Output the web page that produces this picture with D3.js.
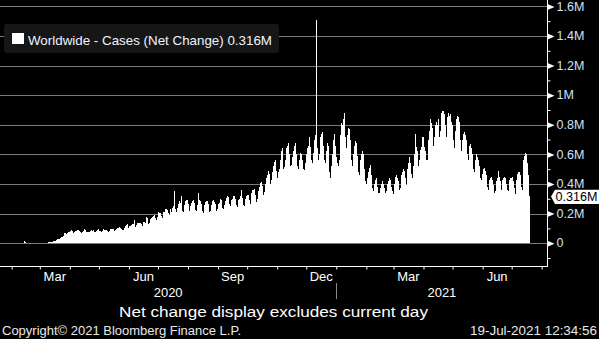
<!DOCTYPE html>
<html>
<head>
<meta charset="utf-8">
<script src="https://cdn.jsdelivr.net/npm/d3@7"></script>
<style>
  html, body { margin: 0; padding: 0; background: #000; }
  svg { display: block; }
</style>
</head>
<body>
<svg id="chart" width="599" height="339"></svg>
<script>
// Daily worldwide net change in confirmed cases, in thousands.
const firstDay = "2020-01-22";

const cases2020 = [
  // Jan 22-31
  0, 0.1, 0.3, 0.5, 0.7, 0.8, 2.7, 0.6, 2.1, 1.7,
  // Feb
  2.1, 2.6, 3.3, 3.9, 3.7, 3.2, 3.4, 2.7, 3.1, 2.6, 2.5, 2.1, 2.0, 15.1, 6.5, 2.1, 2.2, 2.1, 1.9, 0.6,
  0.9, 1.1, 1.5, 0.6, 0.9, 0.9, 1.4, 2.0, 1.9,
  // Mar
  1.8, 2.0, 2.5, 2.3, 2.9, 3.8, 3.9, 4.1, 4.4, 4.8, 7.8, 10.9, 9.7, 10.5, 13.6, 15.1, 17.3, 20.9, 28.3, 30.2,
  31.0, 34.5, 39.1, 40.5, 52, 65, 66, 67, 62, 66, 76,
  // Apr
  77, 80, 87, 82, 72, 74, 81, 85, 87, 86, 83, 79, 70, 76, 84, 93, 89, 79, 76, 74,
  75, 83, 92, 85, 89, 75, 72, 76, 80, 86,
  // May
  93, 85, 80, 77, 83, 93, 92, 89, 87, 80, 74, 83, 94, 96, 99, 96, 85, 91, 95, 103,
  105, 109, 101, 93, 90, 92, 102, 118, 124, 129, 115,
  // Jun
  105, 113, 118, 125, 128, 130, 155, 110, 122, 136, 138, 137, 136, 128, 118, 143, 144, 139, 176, 168,
  133, 138, 165, 170, 180, 184, 189, 170, 160, 174,
  // Jul
  208, 212, 206, 204, 185, 170, 212, 214, 228, 234, 224, 206, 190, 230, 214, 236, 250, 350, 230, 212,
  236, 268, 282, 270, 320, 218, 212, 256, 286, 290, 290,
  // Aug
  264, 220, 210, 254, 274, 282, 290, 270, 226, 218, 258, 340, 290, 282, 262, 216, 206, 256, 276, 282,
  282, 264, 210, 220, 260, 286, 292, 278, 266, 216, 230,
  // Sep
  264, 272, 286, 300, 290, 238, 228, 258, 286, 306, 320, 310, 262, 254, 290, 300, 316, 318, 300, 258,
  246, 290, 300, 318, 360, 306, 260, 254, 302, 316,
  // Oct
  324, 328, 294, 264, 292, 338, 360, 358, 364, 324, 280, 296, 350, 380, 404, 412, 384, 324, 346, 400,
  440, 460, 490, 466, 400, 430, 484, 520, 550, 564, 490,
  // Nov
  440, 480, 500, 560, 620, 640, 618, 500, 512, 560, 640, 660, 680, 600, 520, 530, 580, 620, 660, 680,
  604, 520, 500, 560, 610, 600, 560, 500, 496, 540,
  // Dec
  600, 640, 660, 720, 650, 560, 540, 610, 680, 700, 730, 1510, 640, 560, 600, 720, 740, 750, 660, 560,
  540, 620, 680, 660, 480, 440, 520, 600, 700, 740, 660
];

const cases2021 = [
  // Jan
  580, 540, 520, 560, 730, 810, 800, 840, 880, 720, 600, 640, 730, 780, 770, 700, 560, 520, 600, 660,
  690, 680, 590, 480, 460, 560, 600, 620, 600, 500, 420,
  // Feb
  400, 440, 480, 510, 530, 460, 370, 350, 400, 430, 440, 430, 380, 340, 340, 370, 400, 420, 400, 370,
  340, 350, 400, 420, 440, 430, 380, 350,
  // Mar
  330, 400, 450, 460, 440, 420, 360, 370, 460, 480, 500, 490, 440, 390, 400, 500, 540, 580, 540, 470,
  440, 520, 600, 735, 650, 620, 520, 560, 630, 650, 720,
  // Apr
  720, 650, 620, 560, 560, 700, 760, 836, 810, 780, 660, 720, 800, 820, 800, 780, 840, 720, 760, 880,
  890, 890, 870, 800, 720, 850, 880, 860, 870, 820,
  // May
  800, 700, 640, 760, 840, 860, 850, 820, 700, 620, 700, 740, 750, 730, 700, 600, 560, 640, 660, 670,
  640, 600, 500, 480, 560, 600, 580, 560, 520, 440, 430,
  // Jun
  470, 500, 510, 490, 460, 380, 360, 430, 440, 450, 430, 390, 340, 350, 420, 440, 485, 450, 420, 360,
  340, 430, 440, 450, 440, 400, 360, 350, 430, 440,
  // Jul 1-19
  440, 450, 420, 370, 330, 430, 470, 480, 480, 460, 380, 360, 560, 590, 612, 600, 540, 460, 316
];

const yTickValues = [0, 200, 400, 600, 800, 1000, 1200, 1400, 1600];
const yTickLabels = ["0", "0.2M", "0.4M", "0.6M", "0.8M", "1M", "1.2M", "1.4M", "1.6M"];
const yMinorValues = [-100, 100, 300, 500, 700, 900, 1100, 1300, 1500];
const monthLabelDates = ["2020-03-01", "2020-06-01", "2020-09-01", "2020-12-01", "2021-03-01", "2021-06-01"];
const monthLabelTexts = ["Mar", "Jun", "Sep", "Dec", "Mar", "Jun"];
const yearLabels = ["2020", "2021"];
const seriesName = "Worldwide - Cases (Net Change)";
const lastValueText = "0.316M";
const footnote = "Net change display excludes current day";
const copyright = "Copyright\u00A9 2021 Bloomberg Finance L.P.";
const stamp = "19-Jul-2021 12:34:56";

const parse = d3.timeParse("%Y-%m-%d");
const start = parse(firstDay);
const series = cases2020.concat(cases2021).map((v, i) => ({ date: d3.timeDay.offset(start, i), value: v }));
const last = series[series.length - 1];

const svg = d3.select("#chart");
const W = 599, H = 339;
const axisX = 547.5, axisBottom = 266.5;
const font = "'Liberation Sans', Arial, sans-serif";

svg.append("rect").attr("width", W).attr("height", H).attr("fill", "#000");

const x = d3.scaleTime()
  .domain([new Date(2020, 1, 1), new Date(2021, 7, 1)])
  .range([11.7, 541.7]);
const y = d3.scaleLinear().domain([0, 1600]).range([243.2, 6.4]);

// horizontal grid
svg.append("g").selectAll("line").data(yTickValues).join("line")
  .attr("x1", 0).attr("x2", axisX)
  .attr("y1", d => Math.round(y(d)) + 0.5).attr("y2", d => Math.round(y(d)) + 0.5)
  .attr("stroke", "#7c7c7c").attr("stroke-width", 1);

// daily bars
svg.append("g").attr("shape-rendering", "crispEdges")
  .selectAll("rect").data(series).join("rect")
  .attr("x", d => Math.floor(x(d.date)))
  .attr("width", 1)
  .attr("y", d => y(d.value))
  .attr("height", d => Math.max(0, y(0) - y(d.value)))
  .attr("fill", "#fff");

// right value axis
const yAxis = svg.append("g").attr("transform", `translate(${axisX},0)`)
  .call(d3.axisRight(y).tickValues(yTickValues).tickFormat((d, i) => yTickLabels[i]).tickSize(0).tickPadding(9));
yAxis.select(".domain").remove();
yAxis.selectAll(".tick text")
  .attr("fill", "#cfe4fb").attr("font-family", font).attr("font-size", 12.5).attr("dy", "0.3em");
yAxis.selectAll(".tick").append("path")
  .attr("d", "M0,-3L7,0L0,3Z").attr("fill", "#fff");

const yMinor = svg.append("g").attr("transform", `translate(${axisX},0)`)
  .call(d3.axisRight(y).tickValues(yMinorValues).tickFormat("").tickSize(3));
yMinor.select(".domain").remove();
yMinor.selectAll(".tick line").attr("stroke", "#fff");

svg.append("line").attr("x1", axisX).attr("x2", axisX).attr("y1", 0).attr("y2", axisBottom)
  .attr("stroke", "#fff").attr("stroke-width", 1);

// bottom time axis
const xAxis = svg.append("g").attr("transform", `translate(0,${axisBottom})`)
  .call(d3.axisBottom(x).ticks(d3.timeMonth.every(1)).tickFormat("").tickSize(3));
xAxis.select(".domain").remove();
xAxis.selectAll(".tick line").attr("stroke", "#fff");
svg.append("line").attr("x1", 0).attr("x2", axisX + 0.5).attr("y1", axisBottom).attr("y2", axisBottom)
  .attr("stroke", "#fff").attr("stroke-width", 1);

svg.append("g").selectAll("text").data(monthLabelDates).join("text")
  .attr("x", d => { const m = parse(d); return (x(m) + x(d3.timeMonth.offset(m, 1))) / 2; })
  .attr("y", 281)
  .attr("text-anchor", "middle")
  .attr("font-family", font).attr("font-size", 13).attr("fill", "#fff")
  .text((d, i) => monthLabelTexts[i]);

const yearSplit = x(new Date(2021, 0, 1));
svg.append("line").attr("x1", Math.round(yearSplit) + 0.5).attr("x2", Math.round(yearSplit) + 0.5)
  .attr("y1", 283).attr("y2", 299).attr("stroke", "#8a8a8a");
svg.append("g").selectAll("text").data(yearLabels).join("text")
  .attr("x", (d, i) => i === 0 ? yearSplit / 2 : (yearSplit + axisX) / 2)
  .attr("y", 297)
  .attr("text-anchor", "middle")
  .attr("font-family", font).attr("font-size", 13).attr("fill", "#fff")
  .text(d => d);

// legend
const legend = svg.append("g");
legend.append("rect").attr("x", 4).attr("y", 24).attr("width", 275).attr("height", 29).attr("rx", 3)
  .attr("fill", "#161616");
legend.append("rect").attr("x", 12).attr("y", 33).attr("width", 12).attr("height", 11).attr("fill", "#fff");
legend.append("text").attr("x", 28).attr("y", 44.5)
  .attr("font-family", font).attr("font-size", 13.5).attr("fill", "#eef4ff")
  .attr("textLength", 244).attr("lengthAdjust", "spacingAndGlyphs")
  .text(`${seriesName} ${lastValueText}`);

// last value marker
const ly = y(last.value);
svg.append("path")
  .attr("d", `M551,${ly}L555,${ly - 6.8}L599,${ly - 6.8}L599,${ly + 7.6}L555,${ly + 7.6}Z`)
  .attr("fill", "#fff");
svg.append("text").attr("x", 555.5).attr("y", ly + 5)
  .attr("font-family", font).attr("font-size", 13).attr("fill", "#000")
  .attr("textLength", 42).attr("lengthAdjust", "spacingAndGlyphs")
  .text(lastValueText);

// footer texts
svg.append("text").attr("x", 273.5).attr("y", 317).attr("text-anchor", "middle")
  .attr("font-family", font).attr("font-size", 15.5).attr("fill", "#fff")
  .attr("textLength", 309).attr("lengthAdjust", "spacingAndGlyphs")
  .text(footnote);
svg.append("text").attr("x", 2).attr("y", 334.5)
  .attr("font-family", font).attr("font-size", 12.5).attr("fill", "#e8e8e8")
  .attr("textLength", 239).attr("lengthAdjust", "spacingAndGlyphs")
  .text(copyright);
svg.append("text").attr("x", 597).attr("y", 334.5).attr("text-anchor", "end")
  .attr("font-family", font).attr("font-size", 12.5).attr("fill", "#e8e8e8")
  .attr("textLength", 127).attr("lengthAdjust", "spacingAndGlyphs")
  .text(stamp);
</script>
</body>
</html>
